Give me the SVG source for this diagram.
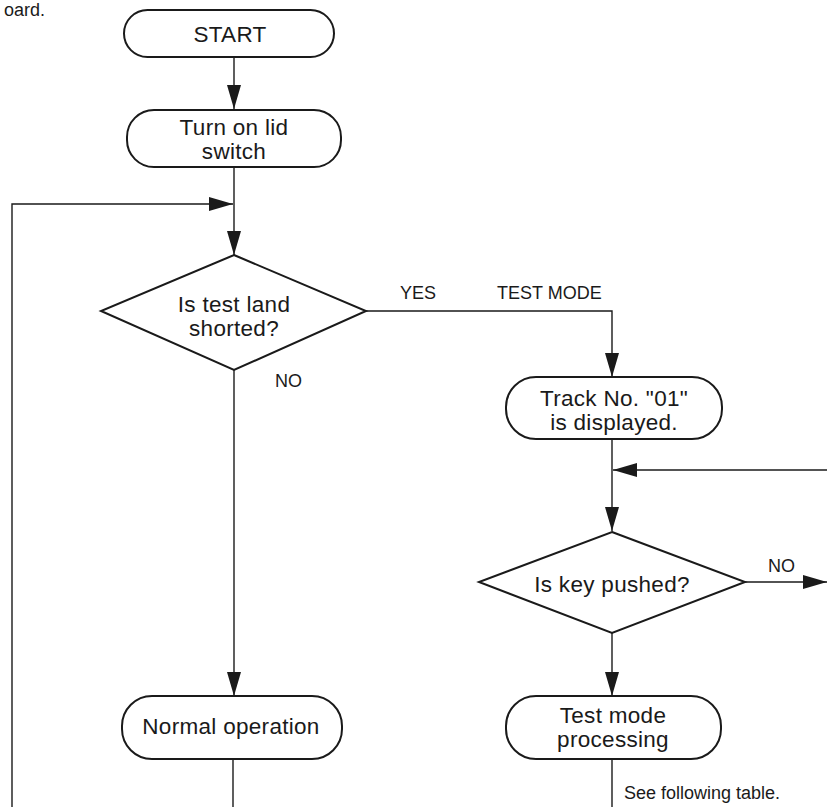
<svg xmlns="http://www.w3.org/2000/svg" width="827" height="807" viewBox="0 0 827 807">
<style>
.node{fill:#fff;stroke:#1a1a1a;stroke-width:2}
.t{font-family:"Liberation Sans",Arial,sans-serif;font-size:22.5px;letter-spacing:0.3px;fill:#1a1a1a;text-anchor:middle}
.lbl{font-family:"Liberation Sans",Arial,sans-serif;font-size:18px;fill:#1a1a1a}
.c{fill:none;stroke:#1a1a1a;stroke-width:1.4}
</style>
<defs>
<marker id="ah" markerUnits="userSpaceOnUse" markerWidth="24" markerHeight="14" refX="24" refY="7" orient="auto">
<path d="M0,0 L24,7 L0,14 z" fill="#1a1a1a"/>
</marker>
</defs>
<rect width="827" height="807" fill="#fff"/>
<text class="lbl" x="45" y="16" text-anchor="end">oard.</text>
<g id="connectors">
<line class="c" x1="234" y1="57" x2="234" y2="109" marker-end="url(#ah)"/>
<line class="c" x1="234" y1="167" x2="234" y2="255" marker-end="url(#ah)"/>
<path class="c" d="M12,807 V204 H233" marker-end="url(#ah)"/>
<line class="c" x1="234" y1="370" x2="234" y2="696" marker-end="url(#ah)"/>
<line class="c" x1="233" y1="759" x2="233" y2="807"/>
<path class="c" d="M365,311 H612 V377" marker-end="url(#ah)"/>
<line class="c" x1="612" y1="439" x2="612" y2="531" marker-end="url(#ah)"/>
<line class="c" x1="827" y1="470" x2="613" y2="470" marker-end="url(#ah)"/>
<line class="c" x1="745" y1="582" x2="827" y2="582" marker-end="url(#ah)"/>
<line class="c" x1="612" y1="633" x2="612" y2="696" marker-end="url(#ah)"/>
<line class="c" x1="612" y1="759" x2="612" y2="807"/>
<text class="lbl" x="400" y="299">YES</text>
<text class="lbl" x="497" y="299">TEST MODE</text>
<text class="lbl" x="275" y="387">NO</text>
<text class="lbl" x="768" y="572">NO</text>
<text class="lbl" x="624" y="799">See following table.</text>
</g>
<g id="start">
<rect class="node" x="124" y="10" width="210" height="47" rx="23.5" ry="23.5"/>
<text class="t" x="230" y="42">START</text>
</g>
<g id="lid">
<rect class="node" x="127" y="110" width="214" height="57" rx="27" ry="27"/>
<text class="t" x="234" y="134.5">Turn on lid</text>
<text class="t" x="234" y="158.5">switch</text>
</g>
<g id="shorted">
<polygon class="node" points="234,255 366,311 234,370 101,311"/>
<text class="t" x="234" y="311.5">Is test land</text>
<text class="t" x="234" y="335.5">shorted?</text>
</g>
<g id="normal">
<rect class="node" x="122" y="696" width="220" height="63" rx="30" ry="30"/>
<text class="t" x="231" y="734">Normal operation</text>
</g>
<g id="track">
<rect class="node" x="506" y="377" width="216" height="62" rx="30" ry="30"/>
<text class="t" x="614" y="405.5">Track No. "01"</text>
<text class="t" x="614" y="429.5">is displayed.</text>
</g>
<g id="key">
<polygon class="node" points="612,532 745,582 612,633 479,582"/>
<text class="t" x="612" y="592">Is key pushed?</text>
</g>
<g id="testmode">
<rect class="node" x="506" y="696" width="215" height="63" rx="30" ry="30"/>
<text class="t" x="613" y="722.5">Test mode</text>
<text class="t" x="613" y="746.5">processing</text>
</g>
</svg>
